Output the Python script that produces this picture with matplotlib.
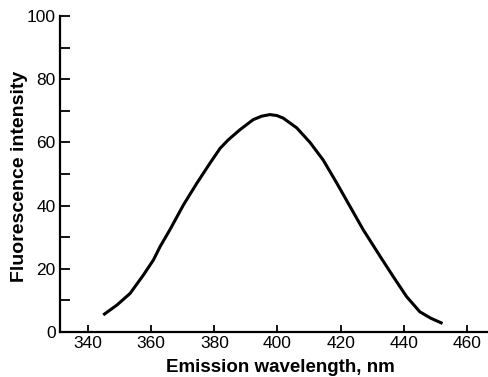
import matplotlib
matplotlib.use("Agg")
import matplotlib.pyplot as plt
from matplotlib.ticker import MultipleLocator

wavelength = [344.8, 349.1, 353.3, 357.5, 360.7, 362.8, 366.0, 370.2, 374.4, 378.6,
              381.8, 384.4, 388.1, 392.3, 395.0, 397.6, 399.8, 401.8, 406.1, 410.3,
              414.5, 418.8, 423.0, 427.2, 432.8, 436.7, 440.9, 445.1, 448.5, 452.3]
intensity = [5.4, 8.5, 12.2, 18.0, 22.8, 27.0, 32.5, 40.2, 47.0, 53.4,
             58.1, 60.8, 64.0, 67.2, 68.3, 68.8, 68.5, 67.7, 64.6, 60.0,
             54.4, 47.1, 39.7, 32.3, 23.5, 17.5, 11.2, 6.4, 4.4, 2.7]
x_ticks = [340, 360, 380, 400, 420, 440, 460]
y_ticks = [0, 20, 40, 60, 80, 100]

plt.rcParams['font.family'] = ['Liberation Sans', 'DejaVu Sans']

fig = plt.figure(figsize=(4.88, 3.77), dpi=100)
ax = fig.add_axes([60/488, 45/377, 428/488, 316/377])

ax.plot(wavelength, intensity, color='black', lw=2.2, solid_joinstyle='round',
        solid_capstyle='butt')

ax.set_xlim(331.1, 466.7)
ax.set_ylim(0, 100)
ax.set_xticks(x_ticks)
ax.set_yticks(y_ticks)
ax.yaxis.set_minor_locator(MultipleLocator(10))

for s in ['top', 'right']:
    ax.spines[s].set_visible(False)
for s in ['left', 'bottom']:
    ax.spines[s].set_linewidth(1.6)

ax.tick_params(axis='both', which='both', direction='in', width=1.3, colors='black',
               labelsize=12.5)
ax.tick_params(axis='y', which='both', length=7, pad=3)
ax.tick_params(axis='x', which='both', length=5, pad=3)

ax.set_xlabel('Emission wavelength, nm', fontsize=13.5, fontweight='bold')
ax.set_ylabel('Fluorescence intensity', fontsize=14, fontweight='bold')
ax.xaxis.set_label_coords((280 - 60) / 428, -(367 - 332) / 316)
ax.yaxis.set_label_coords(-(60 - 20) / 428, (332 - 176) / 316)
ax.xaxis.label.set_va('center')
ax.yaxis.label.set_va('center')

fig.savefig('out.png', dpi=100)
